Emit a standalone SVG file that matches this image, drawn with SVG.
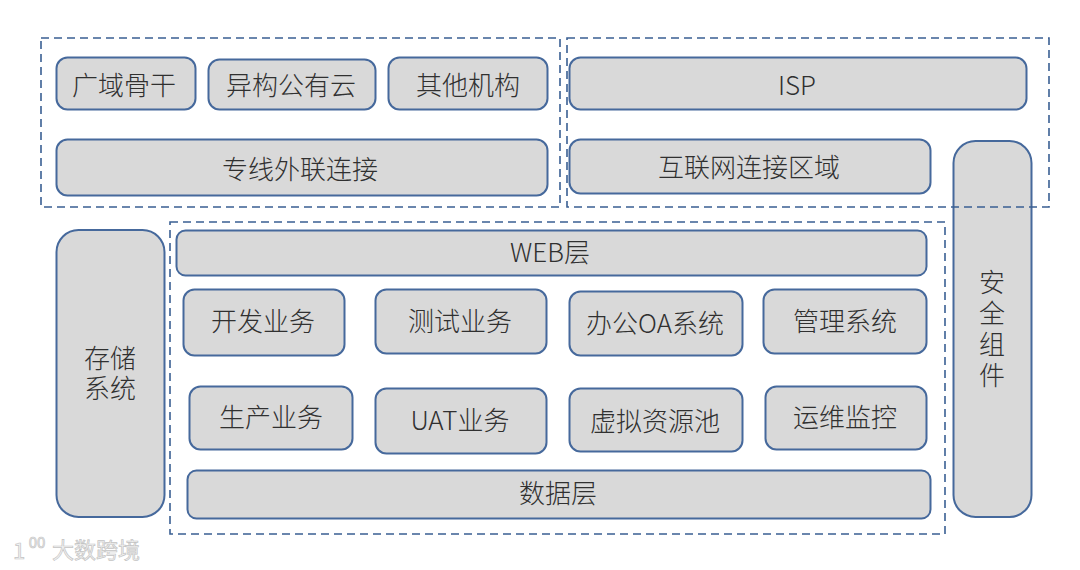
<svg xmlns="http://www.w3.org/2000/svg" width="1080" height="570" viewBox="0 0 1080 570">
<style>
.n{fill:#d9d9d9;stroke:#46699c;stroke-width:2}
.z{fill:none;stroke:#3a5f93;stroke-width:1.6;stroke-dasharray:8 5}
text{font-family:"Noto Sans CJK SC","Noto Sans",sans-serif;font-size:26px;font-weight:300;fill:#303030;text-anchor:middle}
.w{font-size:22px;font-weight:400;fill:#f2f2f2;stroke:#c4c4c4;stroke-width:.7}
.s{font-size:15px}
</style>
<rect width="1080" height="570" fill="#fff"/>
<g id="storage"><rect class="n" x="56.500" y="230" width="108" height="287" rx="22"/><text x="110" y="368">存储<tspan x="110" dy="30">系统</tspan></text></g>
<g id="security"><rect class="n" x="953.500" y="141" width="78" height="376" rx="22"/><text x="992" y="292">安<tspan x="992" dy="31">全</tspan><tspan x="992" dy="31">组</tspan><tspan x="992" dy="31">件</tspan></text></g>
<g id="n1"><rect class="n" x="56.500" y="57.500" width="139" height="52" rx="11"/><text x="124" y="95">广域骨干</text></g>
<g id="n2"><rect class="n" x="208.500" y="59.500" width="167" height="50" rx="11"/><text x="291" y="95">异构公有云</text></g>
<g id="n3"><rect class="n" x="388.500" y="57.500" width="159" height="52" rx="11"/><text x="468" y="95">其他机构</text></g>
<g id="n4"><rect class="n" x="56.500" y="139.500" width="491" height="56" rx="11"/><text x="300" y="179">专线外联连接</text></g>
<g id="n5"><rect class="n" x="569.500" y="57.500" width="457" height="52" rx="11"/><text x="797" y="95">ISP</text></g>
<g id="n6"><rect class="n" x="569.500" y="139.500" width="361" height="54" rx="11"/><text x="749" y="177">互联网连接区域</text></g>
<g id="n7"><rect class="n" x="176.500" y="230.500" width="750" height="45" rx="9"/><text x="550" y="262">WEB层</text></g>
<g id="n8"><rect class="n" x="183.500" y="289.500" width="161" height="66" rx="11"/><text x="263" y="331">开发业务</text></g>
<g id="n9"><rect class="n" x="375.500" y="289.500" width="171" height="64" rx="11"/><text x="460" y="331">测试业务</text></g>
<g id="n10"><rect class="n" x="569.500" y="291.500" width="173" height="64" rx="11"/><text x="655" y="333">办公OA系统</text></g>
<g id="n11"><rect class="n" x="763.500" y="289.500" width="163" height="64" rx="11"/><text x="845" y="331">管理系统</text></g>
<g id="n12"><rect class="n" x="189.500" y="386.500" width="163" height="63" rx="11"/><text x="271" y="427">生产业务</text></g>
<g id="n13"><rect class="n" x="375.500" y="388.500" width="171" height="65" rx="11"/><text x="460" y="430">UAT业务</text></g>
<g id="n14"><rect class="n" x="569.500" y="388.500" width="173" height="63" rx="11"/><text x="655" y="431">虚拟资源池</text></g>
<g id="n15"><rect class="n" x="765.500" y="386.500" width="161" height="63" rx="11"/><text x="845" y="427">运维监控</text></g>
<g id="n16"><rect class="n" x="187.500" y="470.500" width="743" height="48" rx="9"/><text x="558" y="503">数据层</text></g>
<g id="zones">
<rect class="z" x="41" y="38" width="519" height="169"/>
<rect class="z" x="567" y="38" width="482" height="169"/>
<rect class="z" x="170" y="222" width="775" height="312"/>
</g>
<g id="watermark"><text class="w" x="19" y="559">1</text><text class="w s" x="37" y="548">00</text><text class="w" x="96" y="558">大数跨境</text></g>
</svg>
